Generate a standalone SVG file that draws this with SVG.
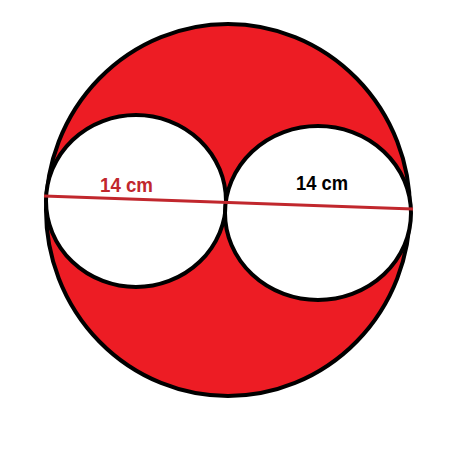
<svg xmlns="http://www.w3.org/2000/svg" width="474" height="453" viewBox="0 0 474 453">
<style>
.o{stroke:#000;stroke-width:4}
.t{font-family:"Liberation Sans",Arial,sans-serif;font-weight:bold;font-size:20px}
</style>
<rect width="474" height="453" fill="#fff"/>
<g id="outer"><ellipse class="o" cx="228" cy="210" rx="182" ry="186" fill="#ED1C24"/></g>
<g id="left-circle"><ellipse class="o" cx="136" cy="201" rx="90" ry="86" fill="#fff"/></g>
<g id="right-circle"><ellipse class="o" cx="318" cy="213" rx="93" ry="87" fill="#fff"/></g>
<g id="connectors"><line x1="44" y1="196" x2="413" y2="209" stroke="#C1272D" stroke-width="3"/></g>
<g id="labels">
<text class="t" x="100" y="192" fill="#C1272D" textLength="53" lengthAdjust="spacingAndGlyphs">14 cm</text>
<text class="t" x="296" y="190" fill="#000" textLength="52" lengthAdjust="spacingAndGlyphs">14 cm</text>
</g>
</svg>
